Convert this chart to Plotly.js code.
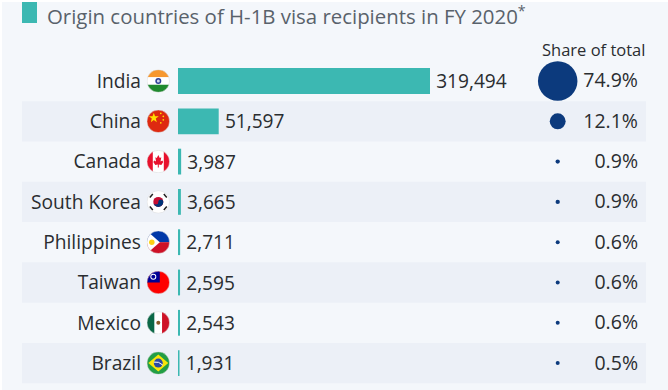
<!DOCTYPE html>
<html><head><meta charset="utf-8">
<script src="https://cdn.plot.ly/plotly-3.0.1.min.js"></script>
<style>html,body{margin:0;padding:0;background:#fff}</style></head>
<body><div id="c" style="width:668px;height:390px"></div>
<script>
const countries=["India","China","Canada","South Korea","Philippines","Taiwan","Mexico","Brazil"];
const recipients=[319494,51597,3987,3665,2711,2595,2543,1931];
const shares=[74.9,12.1,0.9,0.9,0.6,0.6,0.6,0.5];
const shareLabels=["74.9%","12.1%","0.9%","0.9%","0.6%","0.6%","0.6%","0.5%"];
const stripedRows=[1,3,5,7];
const titleText="Origin countries of H-1B visa recipients in FY 2020<sup>*</sup>";
const shareHeader="Share of total";

const W=668,H=390,TEAL="#3cb8b2",NAVY="#0c3a7d",INK="#2a2d30";
const rowH=40.3, row0=81;
function flag(inner){
  const svg=`<svg xmlns="http://www.w3.org/2000/svg" width="92" height="92" viewBox="0 0 46 46"><defs><clipPath id="k"><circle cx="23" cy="23" r="22.5"/></clipPath></defs><g clip-path="url(#k)">${inner}</g><circle cx="23" cy="23" r="22.5" fill="none" stroke="#d9d9d9" stroke-width="1"/></svg>`;
  return "data:image/svg+xml;base64,"+btoa(svg);
}
function r(x,y,w,h,f){return `<rect x="${x}" y="${y}" width="${w}" height="${h}" fill="${f}"/>`;}
function c(x,y,rad,f){return `<circle cx="${x}" cy="${y}" r="${rad}" fill="${f}"/>`;}
const flags=[
 flag(r(0,0,46,15.5,"#f7982f")+r(0,15.5,46,15,"#fff")+r(0,30.5,46,16,"#1f8a2e")+c(23,23,6,"#2c3f96")+c(23,23,3,"#cfd4ea")),
 flag(r(0,0,46,46,"#de2910")+`<polygon points="14,6 16.5,13 24,13 18,17.5 20,25 14,20.5 8,25 10,17.5 4,13 11.5,13" fill="#ffde00"/>`+c(28,7,1.7,"#ffde00")+c(33,13,1.7,"#ffde00")+c(33,20,1.7,"#ffde00")+c(28,26,1.7,"#ffde00")),
 flag(r(0,0,46,46,"#fff")+r(0,0,12,46,"#e8112d")+r(34,0,12,46,"#e8112d")+`<polygon points="23,10 26,16 29,14.5 27.5,23 31,21 33,24 29,30 24,29 24,35 22,35 22,29 17,30 13,24 15,21 18.5,23 17,14.5 20,16" fill="#e8112d"/>`),
 flag(r(0,0,46,46,"#fff")+c(23,23,10,"#c60c30")+`<path d="M13,23 a10,10 0 0 0 20,0 a5,5 0 0 0 -10,0 a5,5 0 0 1 -10,0z" fill="#003478"/>`+`<g stroke="#222" stroke-width="3"><line x1="6" y1="14" x2="12" y2="7"/><line x1="40" y1="14" x2="34" y2="7"/><line x1="6" y1="32" x2="12" y2="39"/><line x1="40" y1="32" x2="34" y2="39"/></g>`),
 flag(r(0,0,46,23,"#0038a8")+r(0,23,46,23,"#ce1126")+`<polygon points="0,0 26,23 0,46" fill="#fff"/>`+c(10,23,5.5,"#fcd116")),
 flag(r(0,0,46,46,"#fe0000")+r(0,0,26,23,"#000095")+c(13,11.5,6,"#fff")+c(13,11.5,4,"#000095")),
 flag(r(0,0,15.5,46,"#0b6847")+r(15.5,0,15,46,"#fff")+r(30.5,0,15.5,46,"#ce1126")+c(23,23,4,"#8a5a2b")),
 flag(r(0,0,46,46,"#229e45")+`<polygon points="23,6 43,23 23,40 3,23" fill="#f8e509"/>`+c(23,23,9,"#2b49a3")+`<path d="M14,21 Q24,19 32,27" stroke="#fff" stroke-width="2" fill="none"/>`)
];

const barsLeft=178, barsPx=252;
const share0=557.7, shareRight=638, labelDrop=1.6;
const traces=[
 {type:"bar",orientation:"h",y:countries,x:recipients,xaxis:"x",yaxis:"y",
  marker:{color:TEAL,line:{width:0}},width:0.64,
  text:recipients.map(v=>"\u2009"+v.toLocaleString("en-US")),textposition:"outside",cliponaxis:false,
  textfont:{family:"Open Sans",size:20,color:INK},hoverinfo:"skip"},
 {type:"scatter",mode:"markers",y:countries,x:countries.map(()=>share0),xaxis:"x2",yaxis:"y",
  marker:{size:shares,sizemode:"area",sizeref:2*74.9/(39.5*39.5),sizemin:2,color:NAVY,line:{width:0},opacity:1},hoverinfo:"skip"},
 {type:"scatter",mode:"text",y:countries,x:countries.map(()=>shareRight),xaxis:"x2",yaxis:"y2",
  text:shareLabels,textposition:"middle left",cliponaxis:false,
  textfont:{family:"Open Sans",size:19.5,color:INK},hoverinfo:"skip"}
];
const shapes=[
 {type:"rect",xref:"paper",yref:"paper",x0:2/W,x1:1,y0:0,y1:1-2/H,fillcolor:"#f4f7fb",line:{width:0},layer:"below"},
 ...stripedRows.map(i=>({type:"rect",xref:"paper",yref:"y",x0:22/W,x1:646/W,y0:i-0.5,y1:i+0.5,fillcolor:"#ecf0f7",line:{width:0},layer:"below"})),
 {type:"rect",xref:"paper",yref:"paper",x0:22/W,x1:37/W,y0:1-23/H,y1:1-2/H,fillcolor:TEAL,line:{width:0}}
];
const layout={
 width:W,height:H,margin:{l:0,r:0,t:0,b:0},paper_bgcolor:"#fff",plot_bgcolor:"rgba(0,0,0,0)",showlegend:false,
 title:{text:titleText,x:47/W,xanchor:"left",xref:"paper",y:1-17/H,yanchor:"middle",font:{family:"Open Sans",size:20.4,color:"#59626b"}},
 xaxis:{domain:[barsLeft/W,1],range:[0,319494*(W-barsLeft)/barsPx],visible:false,fixedrange:true},
 xaxis2:{domain:[0,1],range:[0,W],visible:false,anchor:"y",fixedrange:true},
 yaxis:{type:"category",categoryorder:"array",categoryarray:countries,range:[(H-row0)/rowH,-row0/rowH],
  anchor:"x",showgrid:false,zeroline:false,showline:false,ticks:"",ticklabelstandoff:36,
  tickfont:{family:"Open Sans",size:19.2,color:INK},fixedrange:true},
 yaxis2:{type:"category",categoryorder:"array",categoryarray:countries,overlaying:"y",visible:false,anchor:"x2",
  range:[(H-row0-labelDrop)/rowH,-(row0+labelDrop)/rowH],fixedrange:true},
 shapes,
 images:flags.map((s,i)=>({source:s,xref:"paper",yref:"y",x:158.3/W,y:i,sizex:23/W,sizey:23/rowH,xanchor:"center",yanchor:"middle",sizing:"contain",layer:"above"})),
 annotations:[{text:shareHeader,xref:"paper",yref:"paper",x:593.5/W,y:1-49/H,xanchor:"center",yanchor:"middle",showarrow:false,font:{family:"Open Sans",size:16.5,color:INK}}]
};
Plotly.newPlot("c",traces,layout,{displayModeBar:false,staticPlot:true});
</script></body></html>
